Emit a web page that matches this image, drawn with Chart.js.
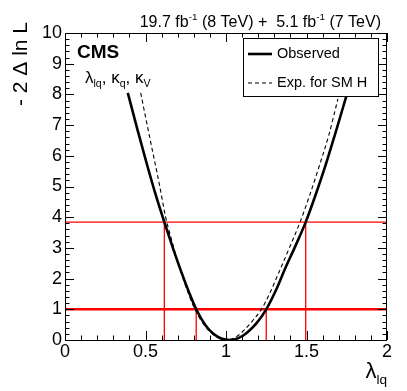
<!DOCTYPE html>
<html>
<head>
<meta charset="utf-8">
<script src="https://cdn.jsdelivr.net/npm/chart.js@4/dist/chart.umd.min.js"></script>
<style>
body{margin:0;background:#fff}
canvas{display:block}
</style>
</head>
<body>
<canvas id="c" width="407" height="391"></canvas>
<script>
// observed scan (-2 delta lnL vs lambda_lq)
const obsX = [0.39,0.45,0.51,0.565,0.617,0.67,0.72,0.77,0.815,0.87,0.92,0.97,1.026,1.08,1.13,1.19,1.25,1.31,1.37,1.43,1.495,1.56,1.62,1.68,1.748];
const obsY = [8.05,6.85,5.7,4.7,3.84,3.0,2.25,1.56,1.0,0.5,0.21,0.05,0.0,0.07,0.24,0.55,1.0,1.62,2.36,3.05,3.84,4.78,5.72,6.75,7.95];
// expected for SM Higgs
const expX = [0.47,0.53,0.585,0.625,0.66,0.7,0.75,0.8,0.86,0.93,1.0,1.06,1.12,1.17,1.22,1.27,1.33,1.395,1.46,1.52,1.58,1.64,1.695];
const expY = [8.05,6.5,5.1,4.0,3.3,2.55,1.75,1.08,0.52,0.14,0.0,0.09,0.36,0.66,1.0,1.5,2.22,3.02,3.84,4.72,5.68,6.7,7.85];
// 68% and 95% CL levels and crossings
const levels = [1, 3.84];
const cl68 = [0.815, 1.25];
const cl95 = [0.617, 1.495];
const xTicks = [0, 0.5, 1, 1.5, 2];
const yTicks = [0,1,2,3,4,5,6,7,8,9,10];

const FONT = '"Liberation Sans", Arial, sans-serif';
const pts = (xs, ys) => xs.map((x,i) => ({x, y: ys[i]}));

function redLine(data, w){
  return {data, borderColor:'#ff0000', borderWidth:w, pointRadius:0, tension:0, fill:false};
}

const datasets = [
  {data: pts(obsX, obsY), borderColor:'#000', borderWidth:2.6, pointRadius:0, cubicInterpolationMode:'monotone', fill:false},
  {data: pts(expX, expY), borderColor:'#000', borderWidth:1.1, borderDash:[4,3], pointRadius:0, cubicInterpolationMode:'monotone', fill:false},
  redLine([{x:0,y:levels[0]},{x:2,y:levels[0]}], 2.6),
  redLine([{x:0,y:levels[1]},{x:2,y:levels[1]}], 1.3),
];
cl68.forEach(x => datasets.push(redLine([{x, y:0},{x, y:levels[0]}], 1.3)));
cl95.forEach(x => datasets.push(redLine([{x, y:0},{x, y:levels[1]}], 1.3)));

// draws text pieces with sub/superscripts
function rich(ctx, parts, x, y, size, align){
  const w = parts.reduce((s,p)=>{ctx.font=(p.bold?'bold ':'')+(p.s?size*0.62:size)+'px '+FONT;return s+ctx.measureText(p.t).width;},0);
  let cx = align==='right' ? x-w : x;
  parts.forEach(p=>{
    ctx.font=(p.bold?'bold ':'')+(p.s?size*0.62:size)+'px '+FONT;
    const dy = p.s===1 ? -size*0.42 : p.s===-1 ? size*0.25 : 0;
    ctx.fillText(p.t, cx, y+dy);
    cx += ctx.measureText(p.t).width;
  });
}

const decor = {
  id:'decor',
  afterDatasetsDraw(chart){
    const {ctx, chartArea:a, scales:{x:sx, y:sy}} = chart;
    ctx.save();
    ctx.strokeStyle='#000'; ctx.lineWidth=1;
    ctx.beginPath();
    for(let v=0; v<=20; v++){
      const px = Math.round(sx.getPixelForValue(v/10))+0.5;
      const L = v%5===0 ? 9 : 4.5;
      ctx.moveTo(px, a.bottom); ctx.lineTo(px, a.bottom-L);
      ctx.moveTo(px, a.top); ctx.lineTo(px, a.top+L);
    }
    for(let v=0; v<=50; v++){
      const py = Math.round(sy.getPixelForValue(v/5))+0.5;
      const L = v%5===0 ? 9 : 4.5;
      ctx.moveTo(a.left, py); ctx.lineTo(a.left+L, py);
      ctx.moveTo(a.right, py); ctx.lineTo(a.right-L, py);
    }
    ctx.stroke();
    ctx.strokeRect(Math.round(a.left)+0.5, Math.round(a.top)+0.5, Math.round(a.right-a.left)-1, Math.round(a.bottom-a.top));

    // legend
    ctx.fillStyle='#fff';
    ctx.fillRect(243.5,38.5,135,58);
    ctx.strokeRect(243.5,38.5,135,58);
    ctx.lineWidth=2.6; ctx.beginPath(); ctx.moveTo(248,54); ctx.lineTo(272,54); ctx.stroke();
    ctx.lineWidth=1.1; ctx.setLineDash([4,3]); ctx.beginPath(); ctx.moveTo(248,83); ctx.lineTo(272,83); ctx.stroke();
    ctx.setLineDash([]);
    ctx.fillStyle='#000'; ctx.textBaseline='middle'; ctx.textAlign='left';
    ctx.font='14.5px '+FONT;
    ctx.fillText('Observed', 277, 54);
    ctx.fillText('Exp. for SM H', 277, 83);

    ctx.textBaseline='alphabetic';
    // top label
    rich(ctx, [{t:'19.7 fb'},{t:'-1',s:1},{t:' (8 TeV) +  5.1 fb'},{t:'-1',s:1},{t:' (7 TeV)'}], 381, 27, 16, 'right');
    // CMS
    rich(ctx, [{t:'CMS', bold:true}], 77, 58, 19, 'left');
    rich(ctx, [{t:'λ'},{t:'lq',s:-1},{t:', κ'},{t:'q',s:-1},{t:', κ'},{t:'V',s:-1}], 85, 83, 17, 'left');
    // x title
    rich(ctx, [{t:'λ'},{t:'lq',s:-1}], 387, 378, 22, 'right');
    // y title
    ctx.translate(27, 22); ctx.rotate(-Math.PI/2);
    rich(ctx, [{t:'- 2 Δ ln L'}], 0, 0, 21, 'right');
    ctx.restore();
  }
};

new Chart(document.getElementById('c'), {
  type:'line',
  data:{datasets},
  options:{
    responsive:false, animation:false, devicePixelRatio:1,
    layout:{padding:{top:33, right:20, left:0, bottom:0}},
    plugins:{legend:{display:false}, tooltip:{enabled:false}},
    scales:{
      x:{type:'linear', min:0, max:2,
        afterBuildTicks: s => { s.ticks = xTicks.map(v=>({value:v})); },
        afterFit: s => { s.height = 51; },
        grid:{display:false, drawTicks:false}, border:{display:false},
        ticks:{padding:1, color:'#000', font:{family:FONT, size:18}, maxRotation:0, autoSkip:false, callback:v=>String(v)}},
      y:{type:'linear', min:0, max:10,
        afterBuildTicks: s => { s.ticks = yTicks.map(v=>({value:v})); },
        afterFit: s => { s.width = 65; },
        grid:{display:false, drawTicks:false}, border:{display:false},
        ticks:{padding:3, color:'#000', font:{family:FONT, size:18}, autoSkip:false, callback:v=>String(v)}}
    }
  },
  plugins:[decor]
});
</script>
</body>
</html>
